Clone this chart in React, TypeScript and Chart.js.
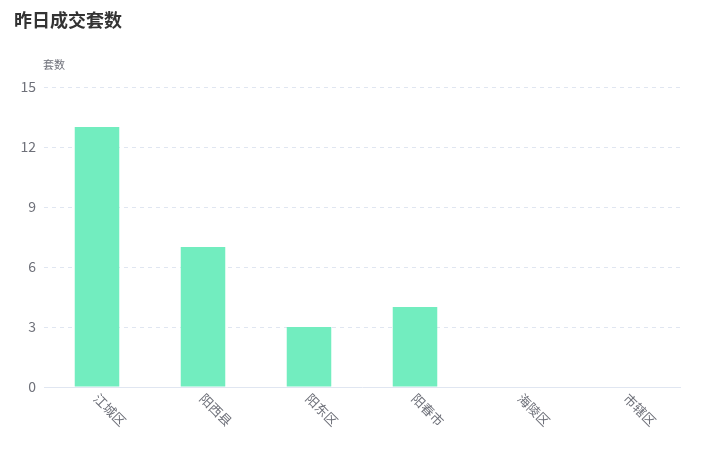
import React, { useEffect, useRef } from "react";
import { Chart, registerables } from "chart.js";

Chart.register(...registerables);

const categories = ["江城区", "阳西县", "阳东区", "阳春市", "海陵区", "市辖区"];
const values = [13, 7, 3, 4, 0, 0];
const yTicks = [0, 3, 6, 9, 12, 15];
const titleText = "昨日成交套数";
const yAxisName = "套数";

const FONT = "'Noto Sans CJK SC', 'Noto Sans', sans-serif";

const textPlugin = {
  id: "customText",
  afterDraw(chart: any) {
    const ctx = chart.ctx;
    const x = chart.scales.x;
    const area = chart.chartArea;
    ctx.save();
    // title
    ctx.fillStyle = "#333333";
    ctx.font = `bold 18px ${FONT}`;
    ctx.textAlign = "left";
    ctx.textBaseline = "middle";
    ctx.fillText(titleText, 14, 20);
    // y axis name
    ctx.fillStyle = "#6e7079";
    ctx.font = `11px ${FONT}`;
    ctx.textAlign = "left";
    ctx.fillText(yAxisName, 43, 65);
    // rotated category labels
    ctx.font = `13px ${FONT}`;
    ctx.fillStyle = "#6e7079";
    categories.forEach((c, i) => {
      const px = x.getPixelForTick(i);
      ctx.save();
      ctx.translate(px - 1, area.bottom + 9);
      ctx.rotate(Math.PI / 4);
      ctx.textAlign = "left";
      ctx.textBaseline = "middle";
      ctx.fillText(c, 0, 0);
      ctx.restore();
    });
    ctx.restore();
  },
};

export default function App() {
  const ref = useRef<HTMLCanvasElement>(null);
  useEffect(() => {
    const chart = new Chart(ref.current!, {
      type: "bar",
      data: {
        labels: categories,
        datasets: [
          {
            data: values,
            backgroundColor: "#72edbf",
            categoryPercentage: 1,
            barPercentage: 0.42,
          },
        ],
      },
      options: {
        animation: false,
        responsive: false,
        layout: { padding: { top: 87, right: 21, left: 0, bottom: 0 } },
        plugins: { legend: { display: false }, tooltip: { enabled: false }, title: { display: false } },
        scales: {
          x: {
            grid: { display: false, drawTicks: false },
            border: { display: true, color: "#e0e6f1", width: 1 },
            ticks: { display: false },
            afterFit: (s: any) => {
              s.height = 75;
            },
          },
          y: {
            min: 0,
            max: 15,
            afterBuildTicks: (s: any) => {
              s.ticks = yTicks.map((v) => ({ value: v }));
            },
            grid: { color: "#e0e6f1", drawTicks: false },
            border: { display: false, dash: [4, 4] },
            ticks: {
              color: "#6e7079",
              font: { family: FONT, size: 14 },
              padding: 8,
            },
            afterFit: (s: any) => {
              s.width = 44;
            },
          },
        },
      },
      plugins: [textPlugin],
    });
    return () => chart.destroy();
  }, []);
  return (
    <div style={{ position: "fixed", left: 0, top: 0, width: 701, height: 462, background: "#fff" }}>
      <canvas ref={ref} width={701} height={462} style={{ display: "block", width: 701, height: 462 }} />
    </div>
  );
}
